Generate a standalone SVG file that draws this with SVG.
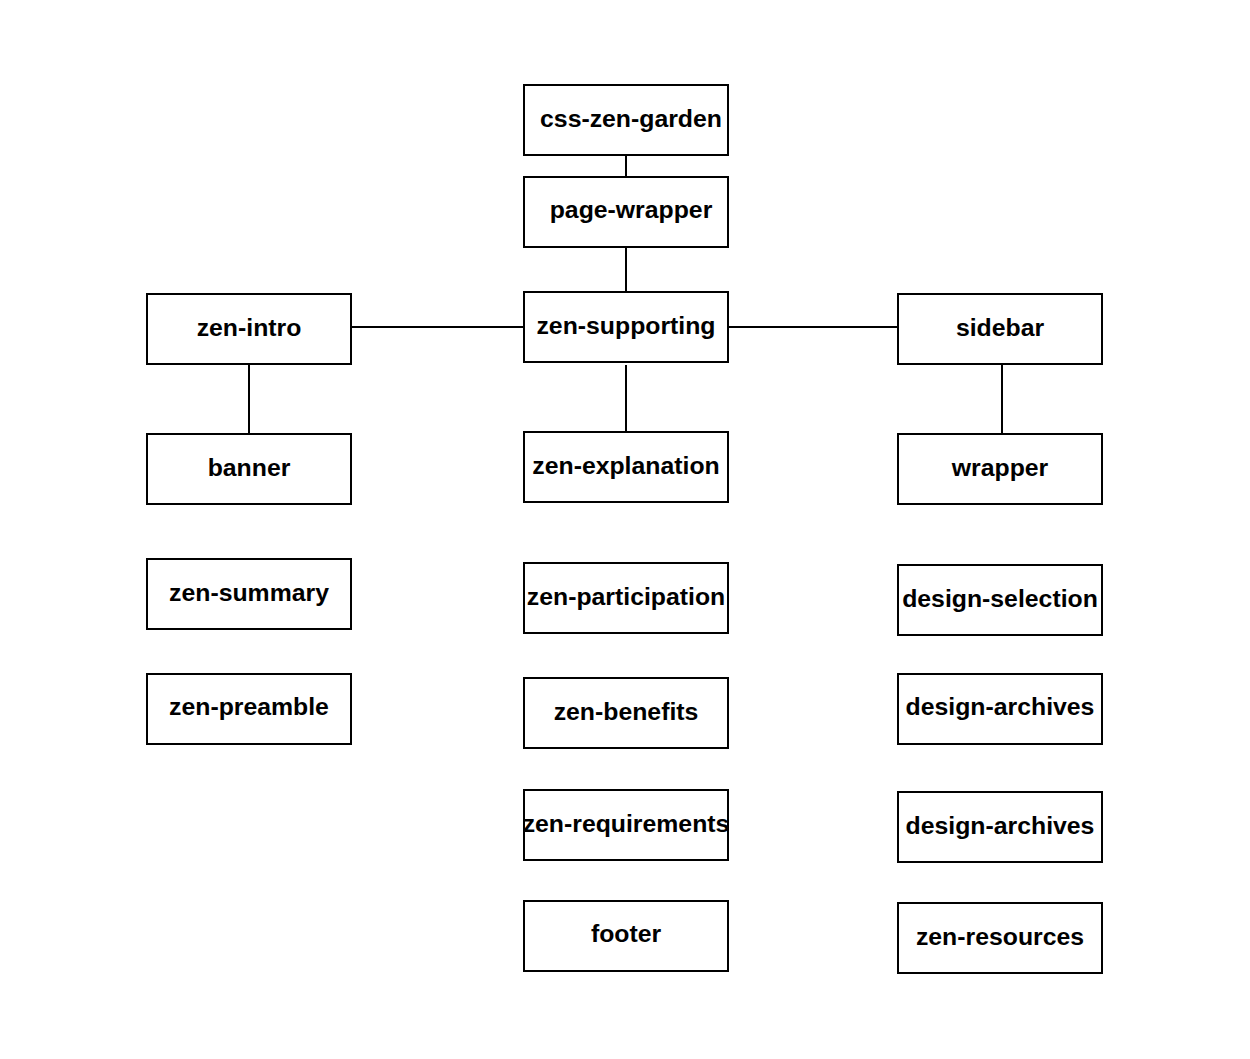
<svg xmlns="http://www.w3.org/2000/svg" width="1250" height="1059" viewBox="0 0 1250 1059">
<style>
.box{fill:#fff;stroke:#000;stroke-width:2}
.lbl{font-family:"Liberation Sans",Arial,sans-serif;font-weight:bold;font-size:24.8px;fill:#000;text-anchor:middle}
.con{stroke:#000;stroke-width:2;fill:none}
</style>
<rect width="1250" height="1059" fill="#fff"/>
<g id="connectors">
<line class="con" x1="626" y1="155" x2="626" y2="177"/>
<line class="con" x1="626" y1="247" x2="626" y2="292"/>
<line class="con" x1="351" y1="327" x2="524" y2="327"/>
<line class="con" x1="728" y1="327" x2="898" y2="327"/>
<line class="con" x1="249" y1="364" x2="249" y2="434"/>
<line class="con" x1="626" y1="365" x2="626" y2="433"/>
<line class="con" x1="1002" y1="364" x2="1002" y2="434"/>
</g>
<g id="css-zen-garden"><rect class="box" x="524" y="85" width="204" height="70"/><text class="lbl" x="631" y="127">css-zen-garden</text></g>
<g id="page-wrapper"><rect class="box" x="524" y="177" width="204" height="70"/><text class="lbl" x="631" y="218">page-wrapper</text></g>
<g id="zen-supporting"><rect class="box" x="524" y="292" width="204" height="70"/><text class="lbl" x="626" y="334">zen-supporting</text></g>
<g id="zen-explanation"><rect class="box" x="524" y="432" width="204" height="70"/><text class="lbl" x="626" y="474">zen-explanation</text></g>
<g id="zen-participation"><rect class="box" x="524" y="563" width="204" height="70"/><text class="lbl" x="626" y="605">zen-participation</text></g>
<g id="zen-benefits"><rect class="box" x="524" y="678" width="204" height="70"/><text class="lbl" x="626" y="720">zen-benefits</text></g>
<g id="zen-requirements"><rect class="box" x="524" y="790" width="204" height="70"/><text class="lbl" x="626" y="832">zen-requirements</text></g>
<g id="footer"><rect class="box" x="524" y="901" width="204" height="70"/><text class="lbl" x="626" y="942">footer</text></g>
<g id="zen-intro"><rect class="box" x="147" y="294" width="204" height="70"/><text class="lbl" x="249" y="336">zen-intro</text></g>
<g id="banner"><rect class="box" x="147" y="434" width="204" height="70"/><text class="lbl" x="249" y="476">banner</text></g>
<g id="zen-summary"><rect class="box" x="147" y="559" width="204" height="70"/><text class="lbl" x="249" y="601">zen-summary</text></g>
<g id="zen-preamble"><rect class="box" x="147" y="674" width="204" height="70"/><text class="lbl" x="249" y="715">zen-preamble</text></g>
<g id="sidebar"><rect class="box" x="898" y="294" width="204" height="70"/><text class="lbl" x="1000" y="336">sidebar</text></g>
<g id="wrapper"><rect class="box" x="898" y="434" width="204" height="70"/><text class="lbl" x="1000" y="476">wrapper</text></g>
<g id="design-selection"><rect class="box" x="898" y="565" width="204" height="70"/><text class="lbl" x="1000" y="607">design-selection</text></g>
<g id="design-archives-1"><rect class="box" x="898" y="674" width="204" height="70"/><text class="lbl" x="1000" y="715">design-archives</text></g>
<g id="design-archives-2"><rect class="box" x="898" y="792" width="204" height="70"/><text class="lbl" x="1000" y="834">design-archives</text></g>
<g id="zen-resources"><rect class="box" x="898" y="903" width="204" height="70"/><text class="lbl" x="1000" y="945">zen-resources</text></g>
</svg>
